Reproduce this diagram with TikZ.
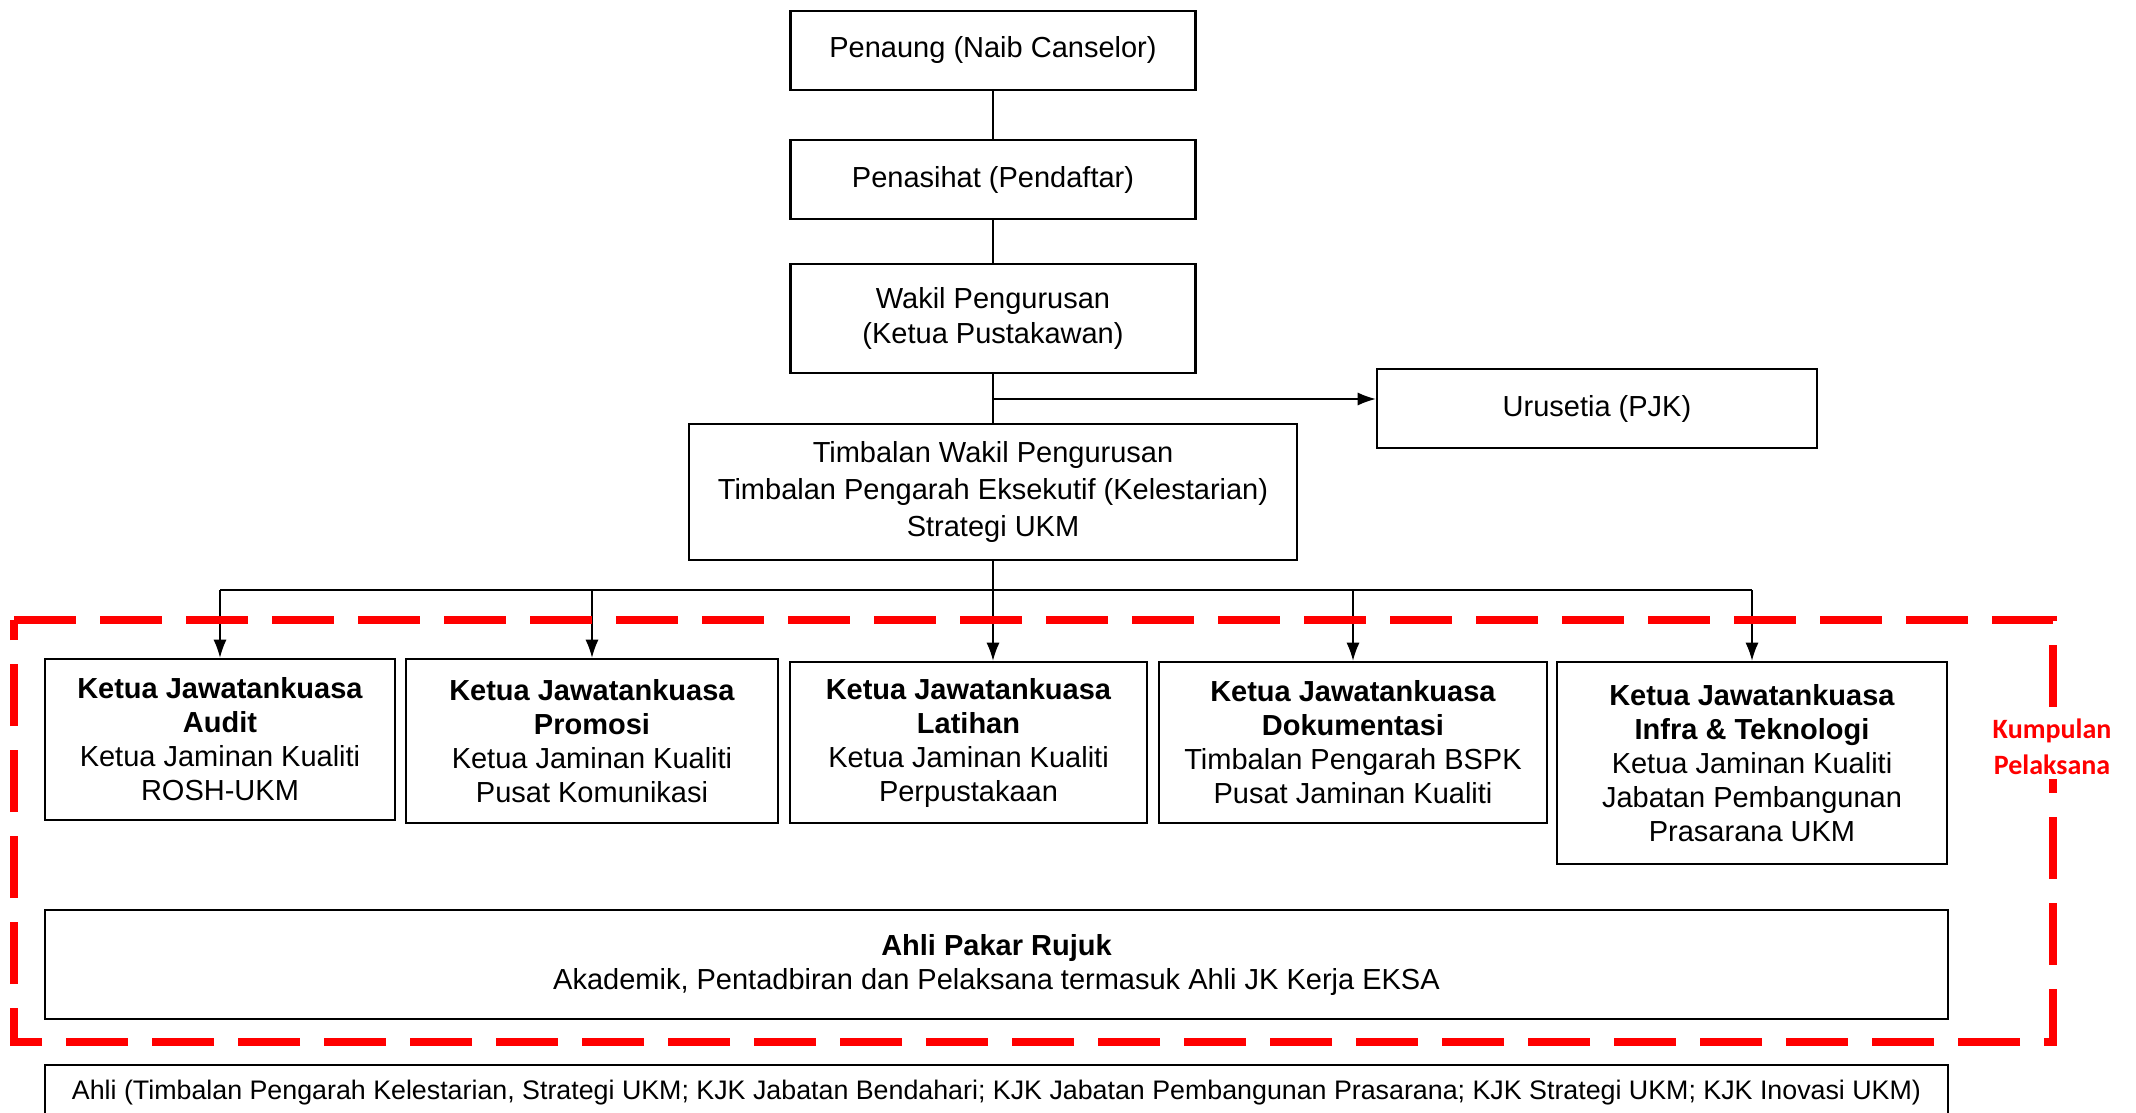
\documentclass[tikz,border=0pt]{standalone}
\usepackage{fontspec}
\setmainfont{Liberation Sans}
\newfontfamily\calibfont{Carlito}
\usepackage{tikz}
\usetikzlibrary{arrows.meta}

\begin{document}
\begin{tikzpicture}[x=1pt,y=-1pt,
  box/.style={draw,line width=2.6pt,align=center,inner sep=0pt,font=\fontsize{29}{34}\selectfont},
  link/.style={line width=1.3pt},
  arr/.style={line width=1.3pt,-{Latex[length=18pt,width=13pt]}}]
\clip (0,0) rectangle (2136,1113);
\fill[white] (0,0) rectangle (2136,1113);
% top of the chart
\node[box,minimum width=405pt,minimum height=79pt] (pen) at (993,50.5) {Penaung (Naib Canselor)};
\node[box,minimum width=405pt,minimum height=79pt] (nas) at (993,179.5) {Penasihat (Pendaftar)};
\node[box,minimum width=405pt,minimum height=109pt,font=\fontsize{29}{35.5}\selectfont] (wakil) at (993,318.5) {Wakil Pengurusan\\(Ketua Pustakawan)};
\node[box,minimum width=440pt,minimum height=79pt] (uru) at (1597,408.5) {Urusetia (PJK)};
\node[box,minimum width=608pt,minimum height=136pt,font=\fontsize{29}{37}\selectfont] (tim) at (993,492) {Timbalan Wakil Pengurusan\\Timbalan Pengarah Eksekutif (Kelestarian)\\Strategi UKM};
% committee heads
\node[box,minimum width=350pt,minimum height=161pt] (audit) at (220,739.5) {\textbf{Ketua Jawatankuasa}\\\textbf{Audit}\\Ketua Jaminan Kualiti\\ROSH-UKM};
\node[box,minimum width=372pt,minimum height=164pt] (promosi) at (592,741) {\textbf{Ketua Jawatankuasa}\\\textbf{Promosi}\\Ketua Jaminan Kualiti\\Pusat Komunikasi};
\node[box,minimum width=357pt,minimum height=161pt] (latihan) at (968.5,742.5) {\textbf{Ketua Jawatankuasa}\\\textbf{Latihan}\\Ketua Jaminan Kualiti\\Perpustakaan};
\node[box,minimum width=388pt,minimum height=161pt] (dokum) at (1353,742.5) {\textbf{Ketua Jawatankuasa}\\\textbf{Dokumentasi}\\Timbalan Pengarah BSPK\\Pusat Jaminan Kualiti};
\node[box,minimum width=390pt,minimum height=202pt] (infra) at (1752,763) {\textbf{Ketua Jawatankuasa}\\\textbf{Infra \& Teknologi}\\Ketua Jaminan Kualiti\\Jabatan Pembangunan\\Prasarana UKM};
\node[box,minimum width=1903pt,minimum height=109pt] (pakar) at (996.5,964.5) {\textbf{Ahli Pakar Rujuk}\\Akademik, Pentadbiran dan Pelaksana termasuk Ahli JK Kerja EKSA};
\node[box,minimum width=1903pt,minimum height=56pt,font=\fontsize{26.8}{30}\selectfont] (ahli) at (996.5,1093) {Ahli (Timbalan Pengarah Kelestarian, Strategi UKM; KJK Jabatan Bendahari; KJK Jabatan Pembangunan Prasarana; KJK Strategi UKM; KJK Inovasi UKM)};
% connectors
\draw[link] (pen) -- (nas);
\draw[link] (nas) -- (wakil);
\draw[link] (wakil) -- (tim);
\coordinate (sec) at (993,399);
\draw[arr] (sec) -- (sec -| uru.west);
\coordinate (bus) at (993,590);
\draw[link] (tim.south) -- (bus);
\draw[link] (bus -| audit.north) -- (bus -| infra.north);
\foreach \n in {audit,promosi,dokum,infra}
  \draw[arr] (bus -| \n.north) -- (\n.north);
\draw[arr] (bus) -- (bus |- latihan.north);
% executive group
\draw[red,line width=8pt,dash pattern=on 62pt off 24pt] (14,620) -- (2053,620) -- (2053,1042) -- (14,1042) -- cycle;
\node[fill=white,text=red,align=center,inner sep=4pt,font=\calibfont\bfseries\fontsize{28}{36}\selectfont] (kp) at (2052,747) {Kumpulan\\Pelaksana};
\end{tikzpicture}
\end{document}
